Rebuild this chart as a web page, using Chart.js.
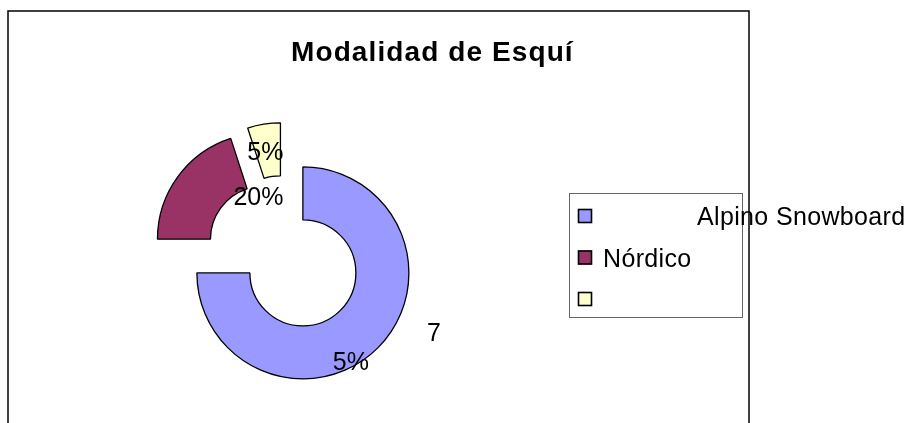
<!DOCTYPE html>
<html>
<head>
<meta charset="utf-8">
<script src="https://cdn.jsdelivr.net/npm/chart.js@4.4.1/dist/chart.umd.min.js"></script>
<style>
    html, body { margin: 0; padding: 0; background: #fff; }
    #wrap { width: 910px; height: 423px; overflow: hidden; }
</style>
</head>
<body>
<div id="wrap"><canvas id="ski-chart" width="910" height="423"></canvas></div>
<script>
const chartTitle = 'Modalidad de Esquí';
const categories = ['Alpino Snowboard', 'Nórdico', ''];
const values = [75, 20, 5];
const colors = ['#9999ff', '#993366', '#ffffcc'];

// layout bits (kept apart from the data)
const EXPLODE = 26;
const FONT = '"Liberation Sans", Arial, sans-serif';
// where each % label sits, relative to its (exploded) slice centre
// the first one is split in two pieces like in the original sheet
const labelSpots = [[[131, 59], [48, 88]], [[-5, -43]], [[-15, -78]]];
const legendIndent = [94, 0, 0];

const total = values.reduce((s, v) => s + v, 0);

// pull every slice out along its middle angle
const explodePlugin = {
    id: 'explode',
    afterDatasetsUpdate(chart) {
        chart.getDatasetMeta(0).data.forEach(arc => {
            const mid = (arc.startAngle + arc.endAngle) / 2;
            arc.x += Math.cos(mid) * EXPLODE;
            arc.y += Math.sin(mid) * EXPLODE;
        });
    }
};

// outer frame + title
const framePlugin = {
    id: 'frame',
    beforeDraw(chart) {
        const ctx = chart.ctx;
        ctx.save();
        ctx.fillStyle = '#fff';
        ctx.fillRect(0, 0, chart.width, chart.height);
        ctx.strokeStyle = '#000';
        ctx.lineWidth = 1.5;
        ctx.strokeRect(8, 11, 741, 500);

        ctx.fillStyle = '#000';
        ctx.font = 'bold 28px ' + FONT;
        ctx.letterSpacing = '1.1px';
        ctx.textAlign = 'left';
        ctx.textBaseline = 'alphabetic';
        ctx.fillText(chartTitle, 291, 61);
        ctx.restore();
    }
};

// percentage labels + boxed legend
const labelPlugin = {
    id: 'pctLabels',
    afterDatasetsDraw(chart) {
        const ctx = chart.ctx;
        const meta = chart.getDatasetMeta(0);
        ctx.save();
        ctx.fillStyle = '#000';
        ctx.font = '25px ' + FONT;
        ctx.textAlign = 'center';
        ctx.textBaseline = 'alphabetic';
        meta.data.forEach((arc, i) => {
            const pct = Math.round(values[i] / total * 100) + '%';
            const spots = labelSpots[i];
            const parts = spots.length === 2 ? [pct.slice(0, 1), pct.slice(1)] : [pct];
            parts.forEach((txt, k) => {
                ctx.fillText(txt, arc.x + spots[k][0], arc.y + spots[k][1] + 9);
            });
        });

        // legend
        const lx = 569, ly = 193, lw = 173, lh = 124;
        ctx.strokeStyle = '#666';
        ctx.lineWidth = 1;
        ctx.strokeRect(lx + 0.5, ly + 0.5, lw, lh);
        ctx.textAlign = 'left';
        ctx.font = '25px ' + FONT;
        ctx.letterSpacing = '0.35px';
        categories.forEach((name, i) => {
            const cy = 216 + i * 41.5;
            ctx.fillStyle = colors[i];
            ctx.fillRect(578, cy - 7, 14, 14);
            ctx.strokeStyle = '#000';
            ctx.lineWidth = 1.6;
            ctx.strokeRect(578.5, cy - 6.5, 13, 13);
            ctx.fillStyle = '#000';
            ctx.fillText(name, 603 + legendIndent[i], cy + 9);
        });
        ctx.restore();
    }
};

new Chart(document.getElementById('ski-chart'), {
    type: 'doughnut',
    data: {
        labels: categories,
        datasets: [{
            data: values,
            backgroundColor: colors,
            borderColor: '#000',
            borderWidth: 1.3
        }]
    },
    options: {
        responsive: false,
        animation: false,
        events: [],
        radius: 106,
        cutout: '50%',
        layout: { padding: { left: 0, right: 341, top: 86, bottom: 0 } },
        plugins: {
            legend: { display: false },
            title: { display: false },
            tooltip: { enabled: false }
        }
    },
    plugins: [explodePlugin, framePlugin, labelPlugin]
});
</script>
</body>
</html>
